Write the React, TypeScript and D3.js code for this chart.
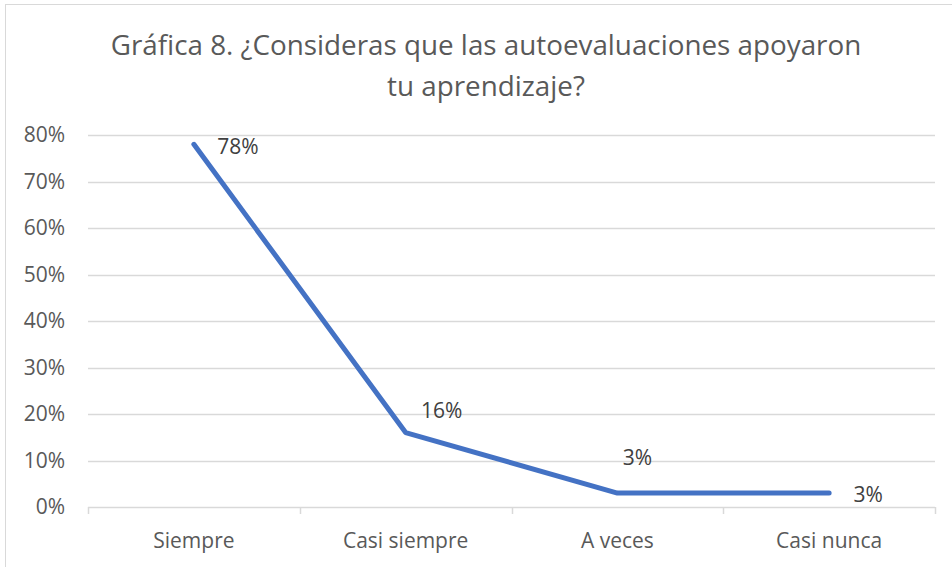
import React, { useEffect, useRef } from "react"
import * as d3 from "d3"

// data
const categories = ["Siempre", "Casi siempre", "A veces", "Casi nunca"]
const values = [0.78, 0.16, 0.03, 0.03]
const yTicks = [0, 0.1, 0.2, 0.3, 0.4, 0.5, 0.6, 0.7, 0.8]
const titleLines = [
  "Gráfica 8. ¿Consideras que las autoevaluaciones apoyaron",
  "tu aprendizaje?",
]

// label nudges (the labels were moved by hand in the original)
const labelOffsets = [
  [44, 2],
  [36, -22],
  [20, -35],
  [39, 2],
]

export default function App() {
  const ref = useRef<SVGSVGElement>(null)

  useEffect(() => {
    const font = "'Open Sans', sans-serif"
    const textColor = "#595959"
    const gridColor = "#d9d9d9"

    const svg = d3.select(ref.current)
    svg.selectAll("*").remove()

    // outer chart frame (right and bottom sit outside the picture)
    svg
      .append("rect")
      .attr("x", 5.5)
      .attr("y", 4.5)
      .attr("width", 980)
      .attr("height", 600)
      .attr("fill", "white")
      .attr("stroke", gridColor)

    const x = d3.scaleBand().domain(categories).range([88, 935])
    const y = d3.scaleLinear().domain([0, 0.8]).range([507, 135])

    // title
    svg
      .append("g")
      .selectAll("text")
      .data(titleLines)
      .enter()
      .append("text")
      .attr("x", 486)
      .attr("y", (d, i) => 55 + i * 41)
      .attr("text-anchor", "middle")
      .attr("font-family", font)
      .attr("font-size", 27.8)
      .attr("fill", textColor)
      .text((d) => d)

    // gridlines
    svg
      .append("g")
      .selectAll("line")
      .data(yTicks.slice(1))
      .enter()
      .append("line")
      .attr("x1", 88)
      .attr("x2", 935)
      .attr("y1", (d) => Math.round(y(d)) + 0.5)
      .attr("y2", (d) => Math.round(y(d)) + 0.5)
      .attr("stroke", gridColor)
      .attr("stroke-width", 1.5)

    // y labels
    svg
      .append("g")
      .selectAll("text")
      .data(yTicks)
      .enter()
      .append("text")
      .attr("x", 65)
      .attr("y", (d) => y(d))
      .attr("dy", "0.35em")
      .attr("text-anchor", "end")
      .attr("font-family", font)
      .attr("font-size", 21)
      .attr("fill", textColor)
      .text((d) => d3.format(".0%")(d))

    // x axis line with ticks between categories
    const xAxis = svg.append("g")
    xAxis
      .append("line")
      .attr("x1", 88)
      .attr("x2", 935)
      .attr("y1", 507.5)
      .attr("y2", 507.5)
      .attr("stroke", gridColor)
      .attr("stroke-width", 1.5)
    const bounds = categories.map((c) => x(c) as number).concat([935])
    xAxis
      .selectAll("line.tick")
      .data(bounds)
      .enter()
      .append("line")
      .attr("class", "tick")
      .attr("x1", (d) => Math.round(d) + 0.5)
      .attr("x2", (d) => Math.round(d) + 0.5)
      .attr("y1", 507)
      .attr("y2", 514)
      .attr("stroke", gridColor)
      .attr("stroke-width", 1.5)
    xAxis
      .selectAll("text")
      .data(categories)
      .enter()
      .append("text")
      .attr("x", (d) => (x(d) as number) + x.bandwidth() / 2)
      .attr("y", 548)
      .attr("text-anchor", "middle")
      .attr("font-family", font)
      .attr("font-size", 21)
      .attr("fill", textColor)
      .text((d) => d)

    // the line
    const line = d3
      .line<number>()
      .x((d, i) => (x(categories[i]) as number) + x.bandwidth() / 2)
      .y((d) => y(d))
    svg
      .append("path")
      .datum(values)
      .attr("d", line)
      .attr("fill", "none")
      .attr("stroke", "#4472c4")
      .attr("stroke-width", 5)
      .attr("stroke-linecap", "round")
      .attr("stroke-linejoin", "round")

    // data labels
    svg
      .append("g")
      .selectAll("text")
      .data(values)
      .enter()
      .append("text")
      .attr(
        "x",
        (d, i) =>
          (x(categories[i]) as number) + x.bandwidth() / 2 + labelOffsets[i][0]
      )
      .attr("y", (d, i) => y(d) + labelOffsets[i][1])
      .attr("dy", "0.35em")
      .attr("text-anchor", "middle")
      .attr("font-family", font)
      .attr("font-size", 21)
      .attr("fill", "#404040")
      .text((d) => d3.format(".0%")(d))
  })

  return (
    <svg
      ref={ref}
      width={952}
      height={567}
      style={{ position: "absolute", left: 0, top: 0 }}
    />
  )
}
